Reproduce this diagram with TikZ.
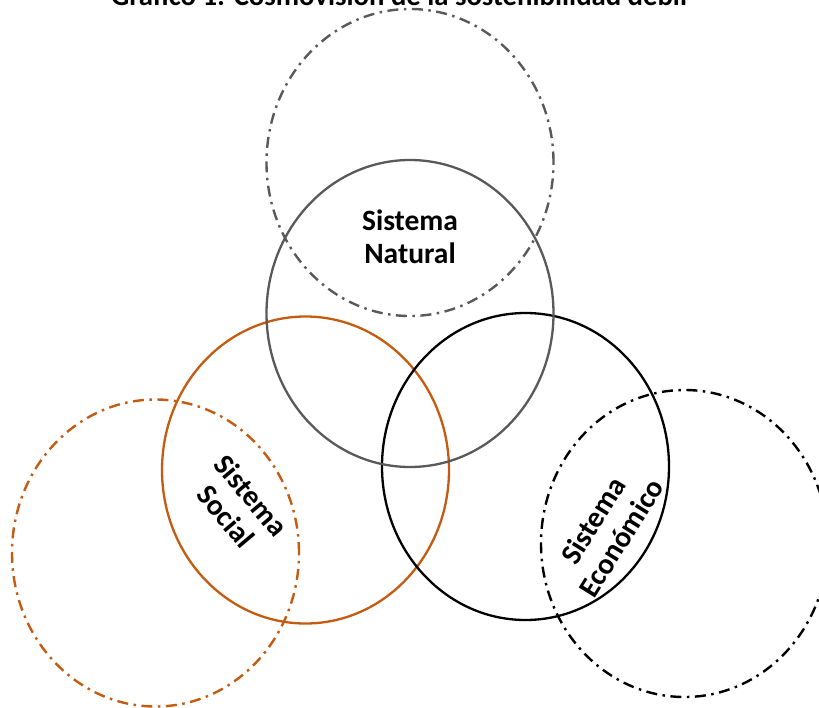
\documentclass[tikz,border=0pt]{standalone}
\usepackage{fontspec}
\setmainfont{Carlito}
\definecolor{natgray}{HTML}{595959}
\definecolor{socorange}{HTML}{C55A11}
\tikzset{
  solidring/.style={line width=2.3pt},
  dashring/.style={line width=2.4pt, dash pattern=on 11pt off 5.5pt on 2.5pt off 5.5pt},
  lbl/.style={font=\fontsize{29.5}{33}\selectfont\bfseries, align=center, inner sep=0pt},
}
\begin{document}
\begin{tikzpicture}[x=1pt,y=-1pt]
\useasboundingbox (0,0) rectangle (819,707);
\clip (0,0) rectangle (819,707);
% title (cut off at top)
\node[font=\fontsize{28.7}{32}\selectfont\bfseries, anchor=base, inner sep=0pt] (title) at (399,5) {Gráfico 1: Cosmovisión de la sostenibilidad débil};
% dash-dot rings
\draw[dashring, natgray] (410,162.5) ellipse [x radius=143.5pt, y radius=153.5pt];
\draw[dashring, socorange] (155.5,553) ellipse [x radius=143.5pt, y radius=153.5pt];
\draw[dashring, black] (684.5,543.5) ellipse [x radius=143.5pt, y radius=153.5pt];
% solid rings
\draw[solidring, socorange] (305.5,470) ellipse [x radius=143.5pt, y radius=153.5pt];
\draw[solidring, black] (525.5,466.5) ellipse [x radius=143.5pt, y radius=153.5pt];
\draw[solidring, natgray] (410,313.5) ellipse [x radius=143.5pt, y radius=153.5pt];
% labels
\node[lbl] (natural) at (410,237) {Sistema\\Natural};
\node[lbl, rotate=-50] (social) at (239,506) {Sistema\\Social};
\node[lbl, rotate=58] (economico) at (607,529) {Sistema\\Económico};
\end{tikzpicture}
\end{document}
